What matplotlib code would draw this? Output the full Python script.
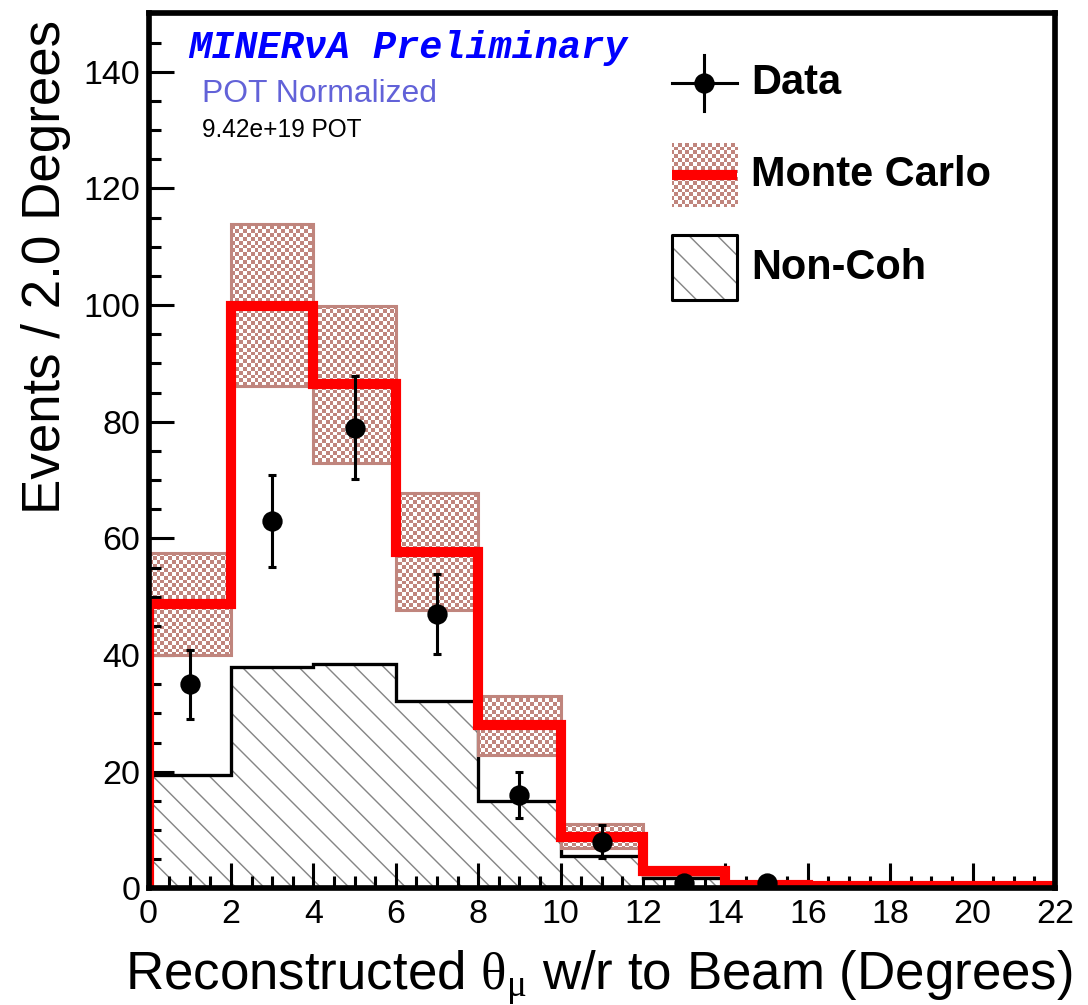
import numpy as np
import matplotlib
matplotlib.use("Agg")
import matplotlib.pyplot as plt
from matplotlib.patches import Rectangle
from matplotlib.lines import Line2D
from matplotlib.ticker import MultipleLocator

plt.rcParams['font.family'] = ['Liberation Sans', 'DejaVu Sans']
plt.rcParams['mathtext.fontset'] = 'custom'
plt.rcParams['mathtext.rm'] = 'Liberation Serif'
plt.rcParams['mathtext.it'] = 'Liberation Serif:italic'
plt.rcParams['hatch.linewidth'] = 0.6

# ---- binning (2 degree bins) ----
bin_edges = [0, 2, 4, 6, 8, 10, 12, 14, 16, 18, 20, 22]

# ---- data points ----
data_x = [1, 3, 5, 7, 9, 11, 13, 15]
data_counts = [35, 63, 79, 47, 16, 8, 1, 1]
data_errors = [5.9, 7.9, 8.9, 6.9, 4.0, 2.8, 1.0, 1.0]

# ---- Monte Carlo prediction and its uncertainty band ----
mc_counts = [48.8, 99.8, 86.4, 57.7, 28.0, 8.9, 3.0, 0.6, 0.5, 0.5, 0.5]
mc_band_low = [40.0, 86.1, 72.9, 47.8, 22.9, 6.9, 2.3, 0.6, 0.5, 0.5, 0.5]
mc_band_high = [57.5, 113.9, 99.9, 67.8, 33.0, 11.0, 3.7, 0.6, 0.5, 0.5, 0.5]

# ---- non-coherent background ----
noncoh_counts = [19.4, 38.0, 38.4, 32.1, 15.0, 5.5, 1.8, 0.0, 0.0, 0.0, 0.0]

x_ticks = [0, 2, 4, 6, 8, 10, 12, 14, 16, 18, 20, 22]
y_ticks = [0, 20, 40, 60, 80, 100, 120, 140]

ROSY = '#c0857d'
ROSY_RGB = np.array([192, 133, 125]) / 255.0
HATCH = '\\\\'
HATCH_GRAY = '#858585'

DPI = 170
fig = plt.figure(figsize=(1088 / DPI, 1005 / DPI), dpi=DPI)
ax = fig.add_axes([0.1365, 0.1160, 0.8332, 0.8707])

XMIN, XMAX, YMIN, YMAX = 0, 22, 0, 150


def checker_texture(ncols, nrows):
    ii, jj = np.indices((nrows, ncols))
    img = np.ones((nrows, ncols, 3))
    img[(ii + jj) % 2 == 0] = ROSY_RGB
    return img


tex = checker_texture(240, 230)

# non-coherent hatched area and outline
edges = np.array(bin_edges, dtype=float)
widths = np.diff(edges)
centers = edges[:-1] + widths / 2
ax.stairs(noncoh_counts, edges, fill=True, facecolor='none', edgecolor=HATCH_GRAY,
          hatch=HATCH, linewidth=0, zorder=1.2)
ax.stairs(noncoh_counts, edges, color='black', linewidth=1.4, zorder=1.3)

# Monte Carlo uncertainty band with checkered fill
low = np.array(mc_band_low)
high = np.array(mc_band_high)
for c, w, lo, hi in zip(centers, widths, low, high):
    if hi - lo <= 0:
        continue
    bar = ax.bar(c, hi - lo, bottom=lo, width=w, facecolor='none',
                 edgecolor=ROSY, linewidth=1.3, zorder=1.6)[0]
    im = ax.imshow(tex, extent=(XMIN, XMAX, YMIN, YMAX), aspect='auto',
                   interpolation='nearest', zorder=1.5)
    im.set_clip_path(bar)

# Monte Carlo central value
ax.stairs(mc_counts, edges, color='red', linewidth=4.3, zorder=2.2)

# data with statistical errors
ax.errorbar(data_x, data_counts, yerr=data_errors, fmt='o', color='black',
            markersize=7.6, elinewidth=1.3, capsize=1.8, capthick=1.3, zorder=3)

ax.set_xlim(XMIN, XMAX)
ax.set_ylim(YMIN, YMAX)
ax.set_xticks(x_ticks)
ax.set_yticks(y_ticks)
ax.xaxis.set_minor_locator(MultipleLocator(0.5))
ax.yaxis.set_minor_locator(MultipleLocator(5))
ax.tick_params(which='both', direction='in', top=False, right=False,
               width=1.3, labelsize=14.4, colors='black')
ax.tick_params(which='major', length=10.5)
ax.tick_params(which='minor', length=5)
ax.tick_params(axis='y', pad=3.5)
ax.tick_params(axis='x', pad=4.5)
for s in ax.spines.values():
    s.set_linewidth(2.4)
    s.set_zorder(2.5)

ax.set_xlabel(r'Reconstructed $\mathrm{\theta_{\mu}}$ w/r to Beam (Degrees)',
              fontsize=22.4, ha='right', va='baseline')
ax.xaxis.set_label_coords(1.019, -0.116)
ax.set_ylabel('Events / 2.0 Degrees', fontsize=22.4, ha='right', va='baseline')
ax.yaxis.set_label_coords(-0.0976, 0.9925)

# header texts
ax.text(0.0436, 0.960, 'MINER\u03bdA Preliminary', transform=ax.transAxes,
        family=['Liberation Mono', 'DejaVu Sans Mono'], fontweight='bold',
        fontstyle='italic', fontsize=16.3, color='#0000ff', va='center', ha='left')
ax.text(0.0587, 0.908, 'POT Normalized', transform=ax.transAxes,
        fontsize=13.5, color='#6262d8', va='center', ha='left')
ax.text(0.0587, 0.867, '9.42e+19 POT', transform=ax.transAxes,
        fontsize=10.4, color='black', va='center', ha='left')

# legend
T = ax.transAxes
kx0, kx1 = 0.577, 0.649
kxc = (kx0 + kx1) / 2
# Data
ax.add_line(Line2D([kx0, kx1], [0.920, 0.920], transform=T, color='black', lw=1.3, zorder=4))
ax.add_line(Line2D([kxc, kxc], [0.888, 0.952], transform=T, color='black', lw=1.3, zorder=4))
ax.add_line(Line2D([kxc], [0.920], transform=T, marker='o', markersize=7.6,
                   color='black', zorder=4))
ax.text(0.6645, 0.920, 'Data', transform=T, fontsize=17.6, fontweight='bold',
        va='center', ha='left')
# Monte Carlo
mc_key = Rectangle((kx0, 0.779), kx1 - kx0, 0.073, transform=T,
                   facecolor='none', edgecolor='none')
ax.add_patch(mc_key)
im = ax.imshow(tex, extent=(XMIN, XMAX, YMIN, YMAX), aspect='auto',
               interpolation='nearest', zorder=3.5)
im.set_clip_path(mc_key)
ax.add_line(Line2D([kx0, kx1], [0.8155, 0.8155], transform=T, color='red',
                   lw=4.3, solid_capstyle='butt', zorder=4))
ax.text(0.6645, 0.8155, 'Monte Carlo', transform=T, fontsize=17.6,
        fontweight='bold', va='center', ha='left')
# Non-Coh
ax.add_patch(Rectangle((kx0, 0.672), kx1 - kx0, 0.075, transform=T,
                       facecolor='white', edgecolor=HATCH_GRAY, hatch=HATCH,
                       linewidth=0, zorder=3.5))
ax.add_patch(Rectangle((kx0, 0.672), kx1 - kx0, 0.075, transform=T,
                       facecolor='none', edgecolor='black', linewidth=1.3,
                       joinstyle='round', zorder=3.6))
ax.text(0.6645, 0.7095, 'Non-Coh', transform=T, fontsize=17.6,
        fontweight='bold', va='center', ha='left')

ax.set_xlim(XMIN, XMAX)
ax.set_ylim(YMIN, YMAX)

fig.savefig('out.png', dpi=DPI)
